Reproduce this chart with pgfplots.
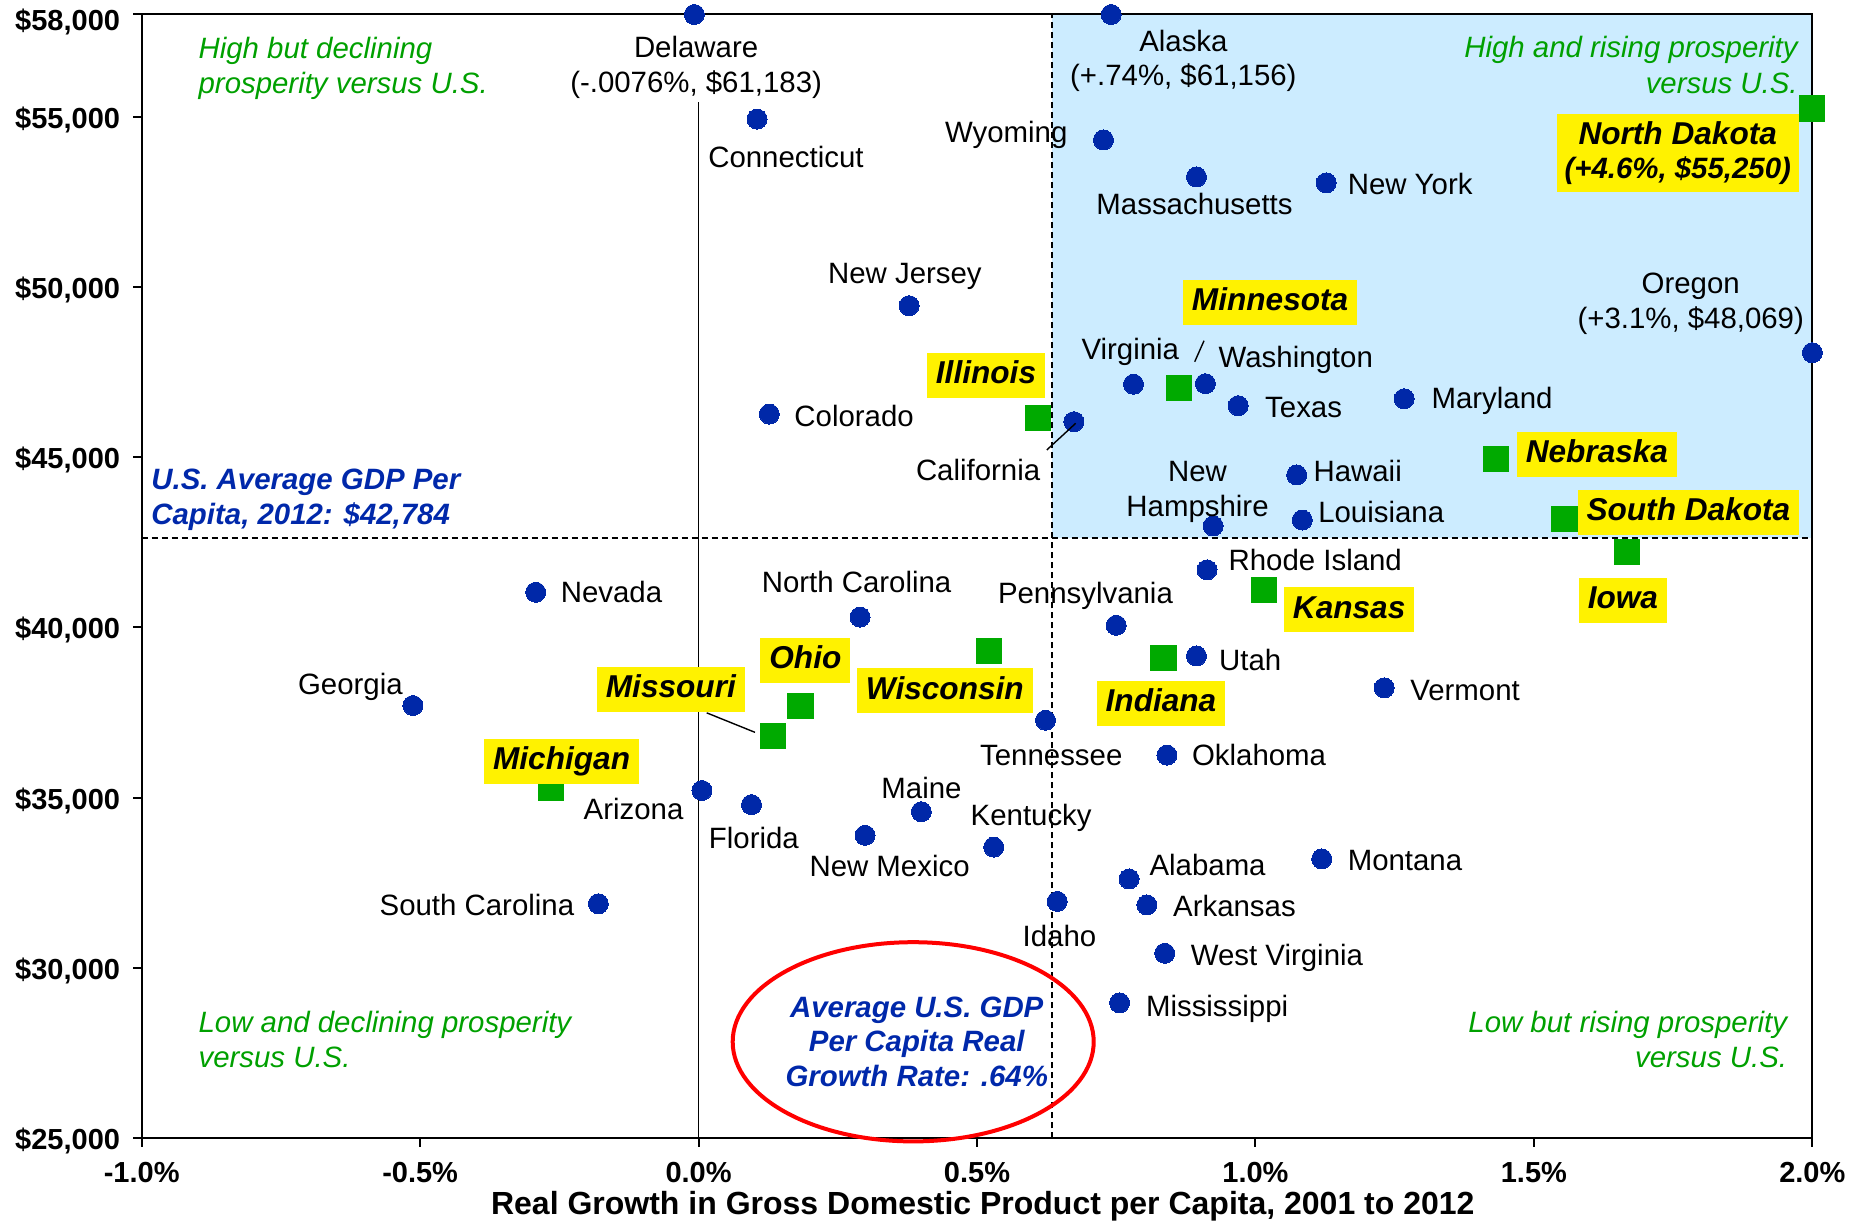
\documentclass[border=0pt]{standalone}
\usepackage{fontspec}
\setmainfont{Liberation Sans}
\usepackage{pgfplots}
\pgfplotsset{compat=1.18}
\definecolor{dotblue}{RGB}{0,40,168}
\definecolor{sqgreen}{RGB}{0,170,0}
\definecolor{txtgreen}{RGB}{0,160,0}
\definecolor{txtblue}{RGB}{0,40,170}
\definecolor{bgblue}{RGB}{204,236,255}
\begin{document}
\begin{tikzpicture}[
  st/.style={font=\fontsize{14.7}{17.3}\selectfont, inner sep=0pt, align=center},
  yb/.style={fill=yellow, font=\fontsize{15.8}{18}\selectfont\bfseries\itshape, inner xsep=4.5pt, inner ysep=3.6pt, text height=11.8pt, text depth=3.5pt},
  qt/.style={font=\fontsize{14.7}{17.7}\selectfont\itshape, text=txtgreen, inner sep=0pt},
  bt/.style={font=\fontsize{14.7}{17.4}\selectfont\bfseries\itshape, text=txtblue, inner sep=0pt}
]
\begin{axis}[
  set layers,
  scale only axis, width=835.3pt, height=561.9pt,
  xmin=-1, xmax=2, ymin=25000, ymax=58000,
  clip=false,
  axis line style={line width=1pt},
  xtick={-1,-0.5,0,0.5,1,1.5,2},
  xticklabels={-1.0\%,-0.5\%,0.0\%,0.5\%,1.0\%,1.5\%,2.0\%},
  ytick={25000,30000,35000,40000,45000,50000,55000},
  yticklabels={{\$25,000},{\$30,000},{\$35,000},{\$40,000},{\$45,000},{\$50,000},{\$55,000}},
  extra y ticks={58000},
  extra y tick labels={\$58{,}000},
  extra y tick style={yticklabel style={yshift=-2.2pt}},
  tick pos=left,
  tick align=outside,
  major tick length=4.3pt,
  every tick/.style={black, line width=1pt},
  ticklabel style={font=\fontsize{14.5}{17}\selectfont\bfseries},
  xticklabel style={yshift=-4pt},
  yticklabel style={xshift=-3pt, yshift=-1.5pt},
]
% shaded quadrant
\addplot[fill=bgblue, draw=none, on layer=axis background] coordinates {(0.635,42640) (2,42640) (2,58000) (0.635,58000)};
% reference lines
\addplot[black, line width=1pt, dash pattern=on 3pt off 2pt] coordinates {(0.635,25000) (0.635,58000)};
\addplot[black, line width=1pt, dash pattern=on 3pt off 2pt] coordinates {(-1,42640) (2,42640)};
\addplot[black, line width=0.8pt] coordinates {(0,25000) (0,55420)};
% states (blue dots)
\addplot[only marks, mark=*, mark size=5pt, mark options={draw=dotblue, fill=dotblue, line width=0pt}] coordinates {
(-0.0076,58000) (0.741,58000) (0.105,54930) (0.727,54315) (0.894,53229) (1.127,53056)
(0.378,49449) (2.0,48069) (0.127,46266) (0.674,46043) (0.781,47141) (0.910,47159)
(0.969,46513) (1.267,46716) (1.074,44478) (1.084,43156) (0.924,42980) (0.913,41692)
(-0.2925,41034) (0.290,40307) (0.750,40064) (0.894,39163) (1.231,38228) (-0.513,37708)
(0.623,37275) (0.841,36253) (0.006,35214) (0.095,34798) (0.400,34590) (0.299,33897)
(0.530,33551) (1.119,33204) (0.773,32615) (-0.180,31888) (0.644,31957) (0.805,31853)
(0.837,30433) (0.756,28978)};
% Midwest states (green squares)
\addplot[only marks, mark=square*, mark size=6.3pt, mark options={draw=sqgreen, fill=sqgreen, line width=0pt}] coordinates {
(2.0,55240) (0.609,46151) (0.863,47024) (1.432,44949) (1.555,43182) (1.667,42212)
(1.015,41104) (0.522,39310) (0.835,39094) (0.183,37703) (0.134,36814) (-0.265,35283)};
\coordinate (SW) at (rel axis cs:0,0);
\end{axis}
\begin{scope}[shift={(SW)}, x=0.5899pt, y=-0.5899pt, shift={(-120.1,-964.8)}]
% quadrant texts
\node[qt, anchor=west, align=left] at (168,58) {High but declining\\prosperity versus U.S.};
\node[qt, anchor=east, align=right] at (1524,55) {High and rising prosperity\\versus U.S.};
\node[qt, anchor=west, align=left] at (168,881) {Low and declining prosperity\\versus U.S.};
\node[qt, anchor=east, align=right] at (1515,881) {Low but rising prosperity\\versus U.S.};
\node[bt, anchor=west, align=left] at (128,423.5) {U.S. Average GDP Per\\Capita, 2012: \$42,784};
\draw[red, line width=2pt] (774,883) ellipse [x radius=90.25pt, y radius=49.8pt];
\node[bt, align=center] at (777,883) {Average U.S. GDP\\Per Capita Real\\Growth Rate: .64\%};
% leader lines
\draw[line width=0.7pt] (887.2,381.4) -- (911.7,358.8);
\draw[line width=0.7pt] (599,604.2) -- (639.9,620.7);
\draw[line width=0.7pt] (1012.6,306.6) -- (1020.5,288.8);
% state labels
\node[st] at (590,57) {Delaware\\(-.0076\%, \$61,183)};
\node[st] at (1003,51.5) {Alaska\\(+.74\%, \$61,156)};
\node[st, anchor=west] at (600,133) {Connecticut};
\node[st, anchor=east] at (905,114) {Wyoming};
\node[st, anchor=west] at (929,173) {Massachusetts};
\node[st, anchor=west] at (1142,156) {New York};
\node[st] at (767,234.5) {New Jersey};
\node[st] at (1433,257.5) {Oregon\\(+3.1\%, \$48,069)};
\node[st, anchor=west] at (673,353) {Colorado};
\node[st] at (958,298) {Virginia};
\node[st, anchor=west] at (1032.6,305) {Washington};
\node[st, anchor=west] at (1072,345) {Texas};
\node[st, anchor=west] at (1213,340) {Maryland};
\node[st] at (829,398) {California};
\node[st] at (1015,417) {New\\Hampshire};
\node[st, anchor=west] at (1113,399) {Hawaii};
\node[st, anchor=west] at (1117,434) {Louisiana};
\node[st, anchor=west] at (1041,475) {Rhode Island};
\node[st, anchor=west] at (475,502) {Nevada};
\node[st] at (726,493) {North Carolina};
\node[st] at (920,505) {Pennsylvania};
\node[st, anchor=west] at (1033,559) {Utah};
\node[st, anchor=west] at (1195,585) {Vermont};
\node[st] at (297,582) {Georgia};
\node[st] at (891,640) {Tennessee};
\node[st, anchor=west] at (1010,640) {Oklahoma};
\node[st] at (537,686) {Arizona};
\node[st] at (639,710) {Florida};
\node[st] at (781,668) {Maine};
\node[st] at (874,693) {Kentucky};
\node[st] at (754,734) {New Mexico};
\node[st, anchor=west] at (974,733) {Alabama};
\node[st, anchor=west] at (1142,729) {Montana};
\node[st, anchor=east] at (487,767) {South Carolina};
\node[st, anchor=west] at (994,768) {Arkansas};
\node[st] at (898,793) {Idaho};
\node[st, anchor=west] at (1009,812) {West Virginia};
\node[st, anchor=west] at (971,855) {Mississippi};
% yellow boxes
\node[fill=yellow, align=center, inner sep=0pt, minimum width=120.8pt, minimum height=38.8pt, font=\fontsize{15.8}{17.1}\selectfont\bfseries\itshape] at (1422,129.5)
  {North Dakota\\{\fontsize{14.7}{17.1}\selectfont (+4.6\%, \$55,250)}};
\node[yb] at (1076.5,256) {Minnesota};
\node[yb] at (835.7,318) {Illinois};
\node[yb] at (1353.5,385) {Nebraska};
\node[yb] at (1431,434) {South Dakota};
\node[yb] at (1375.5,509) {Iowa};
\node[yb] at (1143.5,517) {Kansas};
\node[yb] at (682.6,559.5) {Ohio};
\node[yb] at (800.8,585.5) {Wisconsin};
\node[yb] at (568.6,584) {Missouri};
\node[yb] at (984,596) {Indiana};
\node[yb] at (476,645.5) {Michigan};
% axis title
\node[font=\fontsize{16}{19}\selectfont\bfseries] at (833,1022) {Real Growth in Gross Domestic Product per Capita, 2001 to 2012};
\coordinate (BB1) at (0,1036);
\coordinate (BB2) at (1568,0);
\end{scope}
\pgfresetboundingbox
\useasboundingbox (BB1) rectangle (BB2);
\end{tikzpicture}
\end{document}
